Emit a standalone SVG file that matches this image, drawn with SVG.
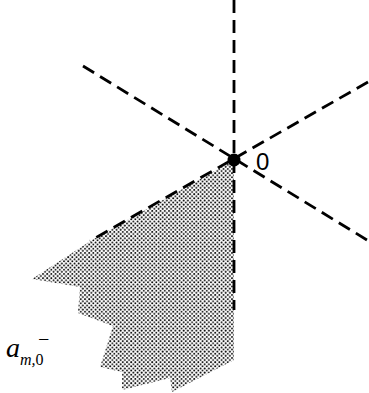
<svg xmlns="http://www.w3.org/2000/svg" width="369" height="393" viewBox="0 0 369 393">
<style>
.dash{fill:none;stroke:#000;stroke-width:2.8;stroke-dasharray:13 7}
.lbl{font-family:"Liberation Sans",Arial,sans-serif;fill:#000}
.math{font-family:"Liberation Serif","Times New Roman",serif;fill:#000;font-style:italic}
</style>
<defs>
<pattern id="dots" width="4.2" height="4.2" patternUnits="userSpaceOnUse">
<circle cx="1" cy="1" r="0.95" fill="#000"/>
<circle cx="3.1" cy="3.1" r="0.95" fill="#000"/>
</pattern>
</defs>
<g id="region">
<polygon points="234,160 92,240 32,279 80,287 78,313 113,326 100,367 122,372 122,390 170,378 172,392 234,360" fill="url(#dots)"/>
</g>
<g id="connectors">
<line class="dash" x1="234" y1="0" x2="234" y2="310"/>
<line class="dash" x1="83" y1="66" x2="367" y2="240"/>
<line class="dash" x1="368" y1="82" x2="90" y2="241"/>
</g>
<g id="origin">
<circle cx="234" cy="160" r="6.5" fill="#000"/>
<text class="lbl" x="256" y="170" font-size="24">0</text>
</g>
<g id="label-a">
<text class="math" x="6" y="357" font-size="28">a<tspan font-size="16" dy="8">m,</tspan><tspan font-size="16" font-style="normal">0</tspan></text>
<text class="math" x="37" y="346" font-size="20" font-style="normal">−</text>
</g>
</svg>
